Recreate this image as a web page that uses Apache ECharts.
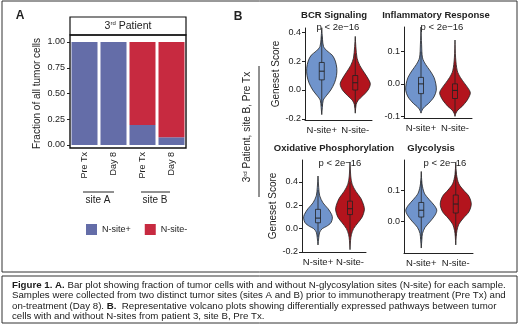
<!DOCTYPE html>
<html>
<head>
<meta charset="utf-8">
<script src="https://cdn.jsdelivr.net/npm/echarts@6/dist/echarts.min.js"></script>
<style>
	html, body { margin: 0; padding: 0; background: #fff; }
	#chart { width: 520px; height: 329px; }
</style>
</head>
<body>
<div id="chart"></div>
<script>
// panel A: fraction of tumor cells per sample
const sampleLabels = [ 'Pre Tx', 'Day 8', 'Pre Tx', 'Day 8' ];
const nsitePos = [ 1, 1, 0.195, 0.075 ];
const nsiteNeg = [ 0, 0, 0.805, 0.925 ];

// panel B: violin groups, profiles are [ score, relative half width ]
const groupLabels = [ 'N-site+', 'N-site-' ];

const bcrPos = [ [ 0.43, 0 ], [ 0.35, 0.05 ], [ 0.3, 0.12 ], [ 0.27, 0.35 ], [ 0.24, 0.7 ], [ 0.2, 0.9 ], [ 0.15, 1 ], [ 0.1, 0.98 ], [ 0.05, 0.85 ], [ 0, 0.6 ], [ -0.04, 0.3 ], [ -0.07, 0.1 ], [ -0.12, 0.04 ], [ -0.17, 0 ] ];
const bcrNeg = [ [ 0.37, 0 ], [ 0.3, 0.04 ], [ 0.22, 0.12 ], [ 0.17, 0.3 ], [ 0.12, 0.6 ], [ 0.07, 0.9 ], [ 0.04, 1 ], [ 0, 0.85 ], [ -0.04, 0.5 ], [ -0.07, 0.2 ], [ -0.1, 0.06 ], [ -0.16, 0 ] ];
const inflPos = [ [ 0.175, 0 ], [ 0.12, 0.04 ], [ 0.08, 0.1 ], [ 0.06, 0.3 ], [ 0.04, 0.6 ], [ 0.02, 0.85 ], [ 0, 0.97 ], [ -0.02, 1 ], [ -0.04, 0.85 ], [ -0.06, 0.5 ], [ -0.07, 0.25 ], [ -0.08, 0.08 ], [ -0.09, 0 ] ];
const inflNeg = [ [ 0.135, 0 ], [ 0.08, 0.04 ], [ 0.04, 0.15 ], [ 0.02, 0.35 ], [ 0, 0.65 ], [ -0.02, 0.95 ], [ -0.03, 1 ], [ -0.05, 0.8 ], [ -0.07, 0.45 ], [ -0.08, 0.2 ], [ -0.09, 0.06 ], [ -0.1, 0 ] ];
const oxphosPos = [ [ 0.45, 0 ], [ 0.35, 0.05 ], [ 0.28, 0.12 ], [ 0.22, 0.35 ], [ 0.17, 0.7 ], [ 0.12, 0.95 ], [ 0.09, 1 ], [ 0.05, 0.9 ], [ 0.02, 0.6 ], [ 0, 0.3 ], [ -0.03, 0.12 ], [ -0.08, 0.05 ], [ -0.14, 0 ] ];
const oxphosNeg = [ [ 0.57, 0 ], [ 0.45, 0.05 ], [ 0.38, 0.15 ], [ 0.32, 0.4 ], [ 0.26, 0.75 ], [ 0.2, 0.95 ], [ 0.16, 1 ], [ 0.1, 0.85 ], [ 0.05, 0.55 ], [ 0, 0.25 ], [ -0.05, 0.1 ], [ -0.1, 0.04 ], [ -0.18, 0 ] ];
const glycPos = [ [ 0.16, 0 ], [ 0.12, 0.05 ], [ 0.09, 0.2 ], [ 0.07, 0.5 ], [ 0.05, 0.85 ], [ 0.035, 1 ], [ 0.02, 0.9 ], [ 0, 0.6 ], [ -0.02, 0.25 ], [ -0.04, 0.08 ], [ -0.06, 0.04 ], [ -0.087, 0 ] ];
const glycNeg = [ [ 0.19, 0 ], [ 0.15, 0.05 ], [ 0.12, 0.2 ], [ 0.1, 0.5 ], [ 0.08, 0.85 ], [ 0.055, 1 ], [ 0.03, 0.85 ], [ 0.01, 0.5 ], [ -0.01, 0.2 ], [ -0.03, 0.08 ], [ -0.05, 0.03 ], [ -0.077, 0 ] ];

// box stats: [ low whisker, q1, median, q3, high whisker ]
const bcrBoxes = [ [ -0.11, 0.07, 0.13, 0.19, 0.37 ], [ -0.12, 0, 0.05, 0.1, 0.25 ] ];
const inflBoxes = [ [ -0.08, -0.03, 0, 0.02, 0.1 ], [ -0.09, -0.045, -0.02, 0, 0.06 ] ];
const oxphosBoxes = [ [ -0.07, 0.05, 0.09, 0.165, 0.33 ], [ -0.06, 0.12, 0.17, 0.235, 0.4 ] ];
const glycBoxes = [ [ -0.06, 0.013, 0.035, 0.06, 0.13 ], [ -0.05, 0.026, 0.055, 0.084, 0.16 ] ];

const colors = {
	barPos: '#646da8',
	barNeg: '#c72a40',
	violinPos: '#7094cc',
	violinNeg: '#b3141d',
	ink: '#222'
};
const font = 'Liberation Sans';

function violinSeries( gridIndex, profiles, boxes ) {
	return {
		type: 'custom',
		xAxisIndex: gridIndex,
		yAxisIndex: gridIndex,
		data: [ [ 0 ], [ 1 ] ],
		renderItem: function ( params, api ) {
			const i = params.dataIndex;
			const cx = api.coord( [ i, 0 ] )[ 0 ];
			const half = api.size( [ 1, 0 ] )[ 0 ] * 0.45;
			const prof = profiles[ i ];
			const right = prof.map( ( p ) => [ cx + p[ 1 ] * half, api.coord( [ i, p[ 0 ] ] )[ 1 ] ] );
			const left = prof.slice().reverse().map( ( p ) => [ cx - p[ 1 ] * half, api.coord( [ i, p[ 0 ] ] )[ 1 ] ] );
			const fill = i === 0 ? colors.violinPos : colors.violinNeg;
			const b = boxes[ i ].map( ( v ) => api.coord( [ i, v ] )[ 1 ] );
			return {
				type: 'group',
				children: [
					{
						type: 'polygon',
						shape: { points: right.concat( left ), smooth: 0.3 },
						style: { fill: fill, stroke: colors.ink, lineWidth: 0.8 }
					},
					{
						type: 'line',
						shape: { x1: cx, y1: b[ 0 ], x2: cx, y2: b[ 4 ] },
						style: { stroke: colors.ink, lineWidth: 0.8 }
					},
					{
						type: 'rect',
						shape: { x: cx - 2.5, y: b[ 3 ], width: 5, height: b[ 1 ] - b[ 3 ] },
						style: { fill: fill, stroke: colors.ink, lineWidth: 0.8 }
					},
					{
						type: 'line',
						shape: { x1: cx - 2.5, y1: b[ 2 ], x2: cx + 2.5, y2: b[ 2 ] },
						style: { stroke: colors.ink, lineWidth: 1 }
					}
				]
			};
		}
	};
}

function violinXAxis( gridIndex ) {
	return {
		gridIndex: gridIndex,
		type: 'category',
		data: groupLabels,
		axisLine: { onZero: false, lineStyle: { color: colors.ink, width: 1 } },
		axisTick: { alignWithLabel: true, length: 3, lineStyle: { color: colors.ink } },
		axisLabel: { interval: 0, fontSize: 9.5, color: colors.ink, margin: 5 }
	};
}

function violinYAxis( gridIndex, min, max, ticks, name, gap ) {
	return {
		gridIndex: gridIndex,
		type: 'value',
		min: min,
		max: max,
		axisLine: { show: true, lineStyle: { color: colors.ink, width: 1 } },
		axisTick: { show: true, length: 3, customValues: ticks, lineStyle: { color: colors.ink } },
		axisLabel: { customValues: ticks, fontSize: 9, color: colors.ink, margin: 4, formatter: ( v ) => v.toFixed( 1 ) },
		splitLine: { show: false },
		name: name,
		nameLocation: 'middle',
		nameGap: gap,
		nameTextStyle: { fontSize: 10, color: colors.ink }
	};
}

function label( x, y, text, extra ) {
	return {
		type: 'text',
		x: x,
		y: y,
		style: Object.assign( {
			text: text,
			align: 'center',
			verticalAlign: 'middle',
			fontSize: 9.5,
			fontFamily: font,
			fill: colors.ink
		}, extra || {} )
	};
}

function hline( x1, x2, y ) {
	return {
		type: 'line',
		shape: { x1: x1, y1: y, x2: x2, y2: y },
		style: { stroke: colors.ink, lineWidth: 1 }
	};
}

const supRich = { sup: { fontSize: 6, verticalAlign: 'top', fontFamily: font, fill: colors.ink } };

const option = {
	animation: false,
	backgroundColor: '#fff',
	textStyle: { fontFamily: font },
	grid: [
		{ left: 70, top: 42, width: 116, height: 103 },
		{ left: 305, top: 28, width: 67, height: 92 },
		{ left: 404, top: 27, width: 68, height: 91 },
		{ left: 302, top: 160, width: 64, height: 92 },
		{ left: 404, top: 160, width: 69, height: 93 }
	],
	legend: {
		left: 86,
		top: 224,
		padding: 0,
		itemWidth: 11,
		itemHeight: 11,
		itemGap: 14,
		icon: 'rect',
		textStyle: { fontSize: 9, color: colors.ink },
		data: [ 'N-site+', 'N-site-' ]
	},
	xAxis: [
		{
			gridIndex: 0,
			type: 'category',
			data: sampleLabels,
			offset: 3,
			axisLine: { show: false },
			axisTick: { alignWithLabel: true, length: 3, lineStyle: { color: colors.ink } },
			axisLabel: { interval: 0, rotate: 90, fontSize: 9, color: colors.ink, margin: 4 }
		},
		violinXAxis( 1 ),
		violinXAxis( 2 ),
		violinXAxis( 3 ),
		violinXAxis( 4 )
	],
	yAxis: [
		{
			gridIndex: 0,
			type: 'value',
			min: 0,
			max: 1,
			interval: 0.25,
			axisLine: { show: false },
			axisTick: { show: true, length: 3, lineStyle: { color: colors.ink } },
			axisLabel: { fontSize: 9, color: colors.ink, margin: 5, formatter: ( v ) => v.toFixed( 2 ) },
			splitLine: { show: false },
			name: 'Fraction of all tumor cells',
			nameLocation: 'middle',
			nameGap: 28,
			nameTextStyle: { fontSize: 10, color: colors.ink }
		},
		violinYAxis( 1, -0.207, 0.428, [ -0.2, 0, 0.2, 0.4 ], 'Geneset Score', 23 ),
		violinYAxis( 2, -0.105, 0.175, [ -0.1, 0, 0.1 ], '', 0 ),
		violinYAxis( 3, -0.2, 0.587, [ -0.2, 0, 0.2, 0.4 ], 'Geneset Score', 20 ),
		violinYAxis( 4, -0.103, 0.197, [ 0, 0.1 ], '', 0 )
	],
	series: [
		{
			name: 'N-site+',
			type: 'bar',
			stack: 'frac',
			barWidth: 26,
			itemStyle: { color: colors.barPos },
			data: nsitePos
		},
		{
			name: 'N-site-',
			type: 'bar',
			stack: 'frac',
			barWidth: 26,
			itemStyle: { color: colors.barNeg },
			data: nsiteNeg
		},
		violinSeries( 1, [ bcrPos, bcrNeg ], bcrBoxes ),
		violinSeries( 2, [ inflPos, inflNeg ], inflBoxes ),
		violinSeries( 3, [ oxphosPos, oxphosNeg ], oxphosBoxes ),
		violinSeries( 4, [ glycPos, glycNeg ], glycBoxes )
	],
	graphic: [
		// outer frames
		{ type: 'rect', shape: { x: 2, y: 1, width: 515, height: 271 }, style: { fill: 'none', stroke: '#333', lineWidth: 1 } },
		{ type: 'rect', shape: { x: 2, y: 276, width: 515, height: 47 }, style: { fill: 'none', stroke: '#333', lineWidth: 1 } },
		label( 20, 16, 'A', { fontSize: 12, fontWeight: 'bold' } ),
		label( 238, 17, 'B', { fontSize: 12, fontWeight: 'bold' } ),
		// panel A strip and border
		{ type: 'rect', shape: { x: 70, y: 17, width: 116, height: 18 }, style: { fill: '#fff', stroke: '#111', lineWidth: 1.2 } },
		{ type: 'rect', shape: { x: 70, y: 35, width: 116, height: 113 }, style: { fill: 'none', stroke: '#111', lineWidth: 1.4 } },
		label( 128, 26, '3{sup|rd} Patient', { fontSize: 10.5, rich: supRich } ),
		hline( 83, 114, 192 ),
		hline( 141, 170, 192 ),
		label( 98, 200, 'site A', { fontSize: 10 } ),
		label( 155, 200, 'site B', { fontSize: 10 } ),
		// panel B side label
		{
			type: 'line',
			shape: { x1: 259, y1: 66, x2: 259, y2: 197 },
			style: { stroke: colors.ink, lineWidth: 1 }
		},
		{
			type: 'text',
			x: 247,
			y: 127,
			rotation: Math.PI / 2,
			style: {
				text: '3{sup|rd} Patient, site B, Pre Tx',
				align: 'center',
				verticalAlign: 'middle',
				fontSize: 10,
				fontFamily: font,
				fill: colors.ink,
				rich: supRich
			}
		},
		// facet titles
		label( 334, 15, 'BCR Signaling', { fontSize: 9.5, fontWeight: 'bold' } ),
		label( 436, 15, 'Inflammatory Response', { fontSize: 9.5, fontWeight: 'bold' } ),
		label( 334, 148, 'Oxidative Phosphorylation', { fontSize: 9.5, fontWeight: 'bold' } ),
		label( 431, 148, 'Glycolysis', { fontSize: 9.5, fontWeight: 'bold' } ),
		label( 338, 27, 'p < 2e\u221216' ),
		label( 442, 27, 'p < 2e\u221216' ),
		label( 340, 163, 'p < 2e\u221216' ),
		label( 445, 163, 'p < 2e\u221216' ),
		// caption
		{
			type: 'text',
			x: 12,
			y: 280,
			style: {
				text: '{b|Figure 1. A.} Bar plot showing fraction of tumor cells with and without N-glycosylation sites (N-site) for each sample.\n' +
					'Samples were collected from two distinct tumor sites (sites A and B) prior to immunotherapy treatment (Pre Tx) and\n' +
					'on-treatment (Day 8). {b|B.}  Representative volcano plots showing differentially expressed pathways between tumor\n' +
					'cells with and without N-sites from patient 3, site B, Pre Tx.',
				fontSize: 9.7,
				lineHeight: 10.5,
				fontFamily: font,
				fill: '#1a1a1a',
				rich: { b: { fontSize: 9.7, lineHeight: 10.5, fontWeight: 'bold', fontFamily: font, fill: '#1a1a1a' } }
			}
		}
	]
};

const chart = echarts.init( document.getElementById( 'chart' ) );
chart.setOption( option );
</script>
</body>
</html>
